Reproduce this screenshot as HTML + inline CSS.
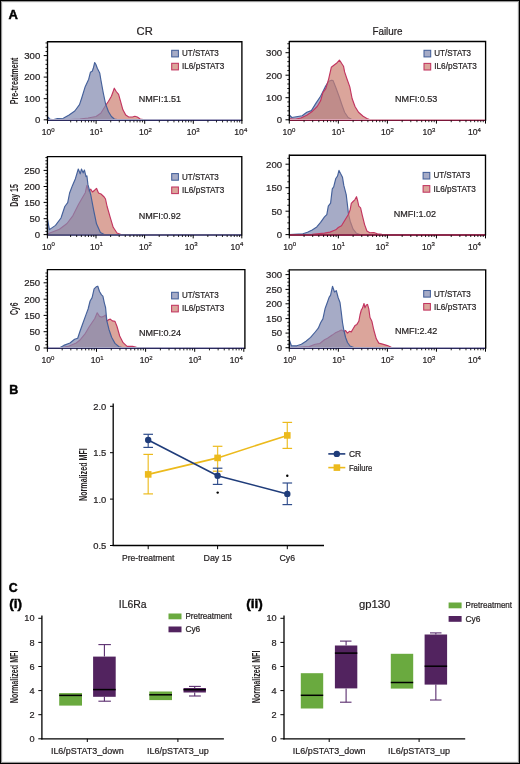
<!DOCTYPE html><html><head><meta charset="utf-8"><style>html,body{margin:0;padding:0;background:#fff;overflow:hidden}svg{display:block;will-change:transform}text{font-family:"Liberation Sans",sans-serif}</style></head><body>
<svg width="520" height="764" viewBox="0 0 520 764">
<rect x="0" y="0" width="520" height="764" fill="#fff"/>
<rect x="0" y="0" width="520" height="764" fill="#000"/>
<rect x="1" y="1" width="518" height="762" fill="#969696"/>
<rect x="2" y="2" width="516" height="760" fill="#f0f0f0"/>
<rect x="3" y="3" width="514" height="758" fill="#fff"/>
<text x="8.6" y="19" font-size="13" text-anchor="start" font-weight="bold" fill="#000" stroke="#000" stroke-width="0.45">A</text>
<text x="144.7" y="35.4" font-size="11.2" text-anchor="middle" font-weight="normal" fill="#231f20" stroke="#231f20" stroke-width="0.22">CR</text>
<text x="387.5" y="35.4" font-size="11.2" text-anchor="middle" font-weight="normal" fill="#231f20" textLength="30.2" lengthAdjust="spacingAndGlyphs" stroke="#231f20" stroke-width="0.22">Failure</text>
<text transform="translate(18 80.9) rotate(-90)" x="0" y="0" font-size="10.8" text-anchor="middle" font-weight="bold" fill="#231f20" textLength="46.7" lengthAdjust="spacingAndGlyphs">Pre-treatment</text>
<text transform="translate(18 195.4) rotate(-90)" x="0" y="0" font-size="10.8" text-anchor="middle" font-weight="bold" fill="#231f20" textLength="22.5" lengthAdjust="spacingAndGlyphs">Day 15</text>
<text transform="translate(18 308.8) rotate(-90)" x="0" y="0" font-size="10.8" text-anchor="middle" font-weight="bold" fill="#231f20" textLength="12.5" lengthAdjust="spacingAndGlyphs">Cy6</text>
<path d="M47.5 120 L60 120 L70 119.6 L80 119 L88 118 L96 116.5 L100.8 113.2 L105.6 105.5 L108.5 101.2 L111.4 96.3 L112.8 92.5 L114.3 88.2 L116.2 91.5 L118.6 94.4 L120.5 101.2 L122.9 109.8 L125.8 115.1 L128.7 117 L132.5 117 L134.9 116.3 L137.3 117 L140.2 119 L143.1 119.6 L146 120 L146 120.3 L47.5 120.3" fill="#cc7f70" fill-opacity="0.7" stroke="none" stroke-width="0" stroke-linejoin="round"/>
<path d="M47.5 120 L60 120 L70 119.6 L80 119 L88 118 L96 116.5 L100.8 113.2 L105.6 105.5 L108.5 101.2 L111.4 96.3 L112.8 92.5 L114.3 88.2 L116.2 91.5 L118.6 94.4 L120.5 101.2 L122.9 109.8 L125.8 115.1 L128.7 117 L132.5 117 L134.9 116.3 L137.3 117 L140.2 119 L143.1 119.6 L146 120" fill="none" fill-opacity="1" stroke="#c23560" stroke-width="1.15" stroke-linejoin="round"/>
<path d="M47.5 120 L47.7 117.2 L48.4 117.3 L49.6 119 L52.9 119.9 L57.5 118.5 L63.3 118.2 L69.1 115 L74.8 111 L79.5 104.6 L81.8 97.7 L85.2 86.7 L88.7 79.2 L90.4 72.3 L92.2 71.2 L93.3 68.3 L94.7 62.5 L95.8 64.2 L97.3 68.3 L99.7 72.9 L101 80.5 L103.2 92.5 L105.6 104 L108.5 111.7 L111.4 116.5 L114.3 119 L117.2 119.6 L120 120 L120 120.3 L47.5 120.3" fill="#838bb0" fill-opacity="0.72" stroke="none" stroke-width="0" stroke-linejoin="round"/>
<path d="M47.5 120 L47.7 117.2 L48.4 117.3 L49.6 119 L52.9 119.9 L57.5 118.5 L63.3 118.2 L69.1 115 L74.8 111 L79.5 104.6 L81.8 97.7 L85.2 86.7 L88.7 79.2 L90.4 72.3 L92.2 71.2 L93.3 68.3 L94.7 62.5 L95.8 64.2 L97.3 68.3 L99.7 72.9 L101 80.5 L103.2 92.5 L105.6 104 L108.5 111.7 L111.4 116.5 L114.3 119 L117.2 119.6 L120 120" fill="none" fill-opacity="1" stroke="#44609a" stroke-width="1.15" stroke-linejoin="round"/>
<rect x="47.5" y="119" width="194.4" height="1" fill="#a8a6c4"/>
<rect x="47.5" y="120" width="194.4" height="1" fill="#2b2a5e"/>
<path d="M47.5 41.7 L241.9 41.7 L241.9 120.9" fill="none" stroke="#000" stroke-width="1.35"/>
<line x1="47.5" y1="41.1" x2="47.5" y2="120.9" stroke="#000" stroke-width="1.35"/>
<line x1="45.5" y1="115.72" x2="47.5" y2="115.72" stroke="#000" stroke-width="0.9"/>
<line x1="45.5" y1="111.44" x2="47.5" y2="111.44" stroke="#000" stroke-width="0.9"/>
<line x1="45.5" y1="107.16" x2="47.5" y2="107.16" stroke="#000" stroke-width="0.9"/>
<line x1="45.5" y1="102.88" x2="47.5" y2="102.88" stroke="#000" stroke-width="0.9"/>
<line x1="45.5" y1="94.32" x2="47.5" y2="94.32" stroke="#000" stroke-width="0.9"/>
<line x1="45.5" y1="90.04" x2="47.5" y2="90.04" stroke="#000" stroke-width="0.9"/>
<line x1="45.5" y1="85.76" x2="47.5" y2="85.76" stroke="#000" stroke-width="0.9"/>
<line x1="45.5" y1="81.48" x2="47.5" y2="81.48" stroke="#000" stroke-width="0.9"/>
<line x1="45.5" y1="72.92" x2="47.5" y2="72.92" stroke="#000" stroke-width="0.9"/>
<line x1="45.5" y1="68.64" x2="47.5" y2="68.64" stroke="#000" stroke-width="0.9"/>
<line x1="45.5" y1="64.36" x2="47.5" y2="64.36" stroke="#000" stroke-width="0.9"/>
<line x1="45.5" y1="60.08" x2="47.5" y2="60.08" stroke="#000" stroke-width="0.9"/>
<line x1="45.5" y1="51.52" x2="47.5" y2="51.52" stroke="#000" stroke-width="0.9"/>
<line x1="45.5" y1="47.24" x2="47.5" y2="47.24" stroke="#000" stroke-width="0.9"/>
<line x1="45.5" y1="42.96" x2="47.5" y2="42.96" stroke="#000" stroke-width="0.9"/>
<line x1="43.7" y1="55.6" x2="47.5" y2="55.6" stroke="#000" stroke-width="1"/>
<text x="40.3" y="58.9" font-size="9.6" text-anchor="end" font-weight="normal" fill="#231f20" stroke="#231f20" stroke-width="0.22">300</text>
<line x1="43.7" y1="77.1" x2="47.5" y2="77.1" stroke="#000" stroke-width="1"/>
<text x="40.3" y="80.4" font-size="9.6" text-anchor="end" font-weight="normal" fill="#231f20" stroke="#231f20" stroke-width="0.22">200</text>
<line x1="43.7" y1="98.7" x2="47.5" y2="98.7" stroke="#000" stroke-width="1"/>
<text x="40.3" y="102" font-size="9.6" text-anchor="end" font-weight="normal" fill="#231f20" stroke="#231f20" stroke-width="0.22">100</text>
<line x1="43.7" y1="119.8" x2="47.5" y2="119.8" stroke="#000" stroke-width="1"/>
<text x="40.3" y="123.1" font-size="9.6" text-anchor="end" font-weight="normal" fill="#231f20" stroke="#231f20" stroke-width="0.22">0</text>
<line x1="47.5" y1="120.5" x2="47.5" y2="123.8" stroke="#000" stroke-width="1"/>
<line x1="70.69" y1="120.5" x2="70.69" y2="122.4" stroke="#000" stroke-width="0.85"/>
<line x1="76.76" y1="120.5" x2="76.76" y2="122.4" stroke="#000" stroke-width="0.85"/>
<line x1="81.47" y1="120.5" x2="81.47" y2="122.4" stroke="#000" stroke-width="0.85"/>
<line x1="85.32" y1="120.5" x2="85.32" y2="122.4" stroke="#000" stroke-width="0.85"/>
<line x1="88.57" y1="120.5" x2="88.57" y2="122.4" stroke="#000" stroke-width="0.85"/>
<line x1="91.39" y1="120.5" x2="91.39" y2="122.4" stroke="#000" stroke-width="0.85"/>
<line x1="93.88" y1="120.5" x2="93.88" y2="122.4" stroke="#000" stroke-width="0.85"/>
<text x="48.2" y="135.4" font-size="8.6" fill="#231f20" stroke="#231f20" stroke-width="0.2" text-anchor="middle">10<tspan font-size="6" dy="-3.6">0</tspan></text>
<line x1="96.1" y1="120.5" x2="96.1" y2="123.8" stroke="#000" stroke-width="1"/>
<line x1="110.73" y1="120.5" x2="110.73" y2="122.4" stroke="#000" stroke-width="0.85"/>
<line x1="119.29" y1="120.5" x2="119.29" y2="122.4" stroke="#000" stroke-width="0.85"/>
<line x1="125.36" y1="120.5" x2="125.36" y2="122.4" stroke="#000" stroke-width="0.85"/>
<line x1="130.07" y1="120.5" x2="130.07" y2="122.4" stroke="#000" stroke-width="0.85"/>
<line x1="133.92" y1="120.5" x2="133.92" y2="122.4" stroke="#000" stroke-width="0.85"/>
<line x1="137.17" y1="120.5" x2="137.17" y2="122.4" stroke="#000" stroke-width="0.85"/>
<line x1="139.99" y1="120.5" x2="139.99" y2="122.4" stroke="#000" stroke-width="0.85"/>
<line x1="142.48" y1="120.5" x2="142.48" y2="122.4" stroke="#000" stroke-width="0.85"/>
<text x="96.3" y="135.4" font-size="8.6" fill="#231f20" stroke="#231f20" stroke-width="0.2" text-anchor="middle">10<tspan font-size="6" dy="-3.6">1</tspan></text>
<line x1="144.7" y1="120.5" x2="144.7" y2="123.8" stroke="#000" stroke-width="1"/>
<line x1="159.33" y1="120.5" x2="159.33" y2="122.4" stroke="#000" stroke-width="0.85"/>
<line x1="167.89" y1="120.5" x2="167.89" y2="122.4" stroke="#000" stroke-width="0.85"/>
<line x1="173.96" y1="120.5" x2="173.96" y2="122.4" stroke="#000" stroke-width="0.85"/>
<line x1="178.67" y1="120.5" x2="178.67" y2="122.4" stroke="#000" stroke-width="0.85"/>
<line x1="182.52" y1="120.5" x2="182.52" y2="122.4" stroke="#000" stroke-width="0.85"/>
<line x1="185.77" y1="120.5" x2="185.77" y2="122.4" stroke="#000" stroke-width="0.85"/>
<line x1="188.59" y1="120.5" x2="188.59" y2="122.4" stroke="#000" stroke-width="0.85"/>
<line x1="191.08" y1="120.5" x2="191.08" y2="122.4" stroke="#000" stroke-width="0.85"/>
<text x="145.4" y="135.4" font-size="8.6" fill="#231f20" stroke="#231f20" stroke-width="0.2" text-anchor="middle">10<tspan font-size="6" dy="-3.6">2</tspan></text>
<line x1="193.3" y1="120.5" x2="193.3" y2="123.8" stroke="#000" stroke-width="1"/>
<line x1="207.93" y1="120.5" x2="207.93" y2="122.4" stroke="#000" stroke-width="0.85"/>
<line x1="216.49" y1="120.5" x2="216.49" y2="122.4" stroke="#000" stroke-width="0.85"/>
<line x1="222.56" y1="120.5" x2="222.56" y2="122.4" stroke="#000" stroke-width="0.85"/>
<line x1="227.27" y1="120.5" x2="227.27" y2="122.4" stroke="#000" stroke-width="0.85"/>
<line x1="231.12" y1="120.5" x2="231.12" y2="122.4" stroke="#000" stroke-width="0.85"/>
<line x1="234.37" y1="120.5" x2="234.37" y2="122.4" stroke="#000" stroke-width="0.85"/>
<line x1="237.19" y1="120.5" x2="237.19" y2="122.4" stroke="#000" stroke-width="0.85"/>
<line x1="239.68" y1="120.5" x2="239.68" y2="122.4" stroke="#000" stroke-width="0.85"/>
<text x="193.1" y="135.4" font-size="8.6" fill="#231f20" stroke="#231f20" stroke-width="0.2" text-anchor="middle">10<tspan font-size="6" dy="-3.6">3</tspan></text>
<line x1="241.9" y1="120.5" x2="241.9" y2="123.8" stroke="#000" stroke-width="1"/>
<text x="240.8" y="135.4" font-size="8.6" fill="#231f20" stroke="#231f20" stroke-width="0.2" text-anchor="middle">10<tspan font-size="6" dy="-3.6">4</tspan></text>
<rect x="171.7" y="50.3" width="6.7" height="6.6" fill="#838bb0" fill-opacity="0.72" stroke="#44609a" stroke-width="1.05"/>
<rect x="171.7" y="63.3" width="6.7" height="6.6" fill="#cc7f70" fill-opacity="0.7" stroke="#c23560" stroke-width="1.05"/>
<text x="182" y="56.3" font-size="8.9" text-anchor="start" font-weight="normal" fill="#231f20" textLength="36.8" lengthAdjust="spacingAndGlyphs" stroke="#231f20" stroke-width="0.22">UT/STAT3</text>
<text x="182" y="69.3" font-size="8.9" text-anchor="start" font-weight="normal" fill="#231f20" textLength="42.4" lengthAdjust="spacingAndGlyphs" stroke="#231f20" stroke-width="0.22">IL6/pSTAT3</text>
<text x="138.8" y="101.8" font-size="9.5" text-anchor="start" font-weight="normal" fill="#231f20" textLength="42.2" lengthAdjust="spacingAndGlyphs" stroke="#231f20" stroke-width="0.22">NMFI:1.51</text>
<path d="M289.4 119.8 L289.6 115.2 L291.8 117.5 L296.4 116.7 L302.2 115.8 L306.8 112.3 L311.4 110.6 L316 103.1 L320.6 96.2 L325.2 86.9 L328.7 81.2 L331.6 80.2 L333.1 80.6 L336 88 L339.4 97.3 L341.7 104.2 L344.6 112.3 L348.1 117.5 L351.5 119.2 L355 119.8 L355 120.1 L289.4 120.1" fill="#838bb0" fill-opacity="0.72" stroke="none" stroke-width="0" stroke-linejoin="round"/>
<path d="M289.4 119.8 L289.6 115.2 L291.8 117.5 L296.4 116.7 L302.2 115.8 L306.8 112.3 L311.4 110.6 L316 103.1 L320.6 96.2 L325.2 86.9 L328.7 81.2 L331.6 80.2 L333.1 80.6 L336 88 L339.4 97.3 L341.7 104.2 L344.6 112.3 L348.1 117.5 L351.5 119.2 L355 119.8" fill="none" fill-opacity="1" stroke="#44609a" stroke-width="1.15" stroke-linejoin="round"/>
<path d="M289.4 119.8 L289.6 118.7 L295.2 119.2 L301 118 L306.8 115.2 L312.5 111.2 L317.2 106.5 L320.6 100.8 L322.9 92.7 L325.8 88.7 L328.7 78.8 L331.3 67.3 L334.2 65 L336.5 63.3 L339.4 60.2 L341.2 62.7 L343.5 66.2 L344.6 71.9 L346.9 78.8 L349.8 86.9 L352.1 98.5 L355 106.5 L358.5 112.3 L363.1 116.3 L367.7 118.9 L370 119.8 L370 120.1 L289.4 120.1" fill="#cc7f70" fill-opacity="0.7" stroke="none" stroke-width="0" stroke-linejoin="round"/>
<path d="M289.4 119.8 L289.6 118.7 L295.2 119.2 L301 118 L306.8 115.2 L312.5 111.2 L317.2 106.5 L320.6 100.8 L322.9 92.7 L325.8 88.7 L328.7 78.8 L331.3 67.3 L334.2 65 L336.5 63.3 L339.4 60.2 L341.2 62.7 L343.5 66.2 L344.6 71.9 L346.9 78.8 L349.8 86.9 L352.1 98.5 L355 106.5 L358.5 112.3 L363.1 116.3 L367.7 118.9 L370 119.8" fill="none" fill-opacity="1" stroke="#c23560" stroke-width="1.15" stroke-linejoin="round"/>
<rect x="289.3" y="119" width="196.3" height="1" fill="#dca6b6"/>
<rect x="289.3" y="120" width="196.3" height="1" fill="#7a1538"/>
<path d="M289.3 41.5 L485.6 41.5 L485.6 120.7" fill="none" stroke="#000" stroke-width="1.35"/>
<line x1="289.3" y1="40.9" x2="289.3" y2="120.7" stroke="#000" stroke-width="1.35"/>
<line x1="287.3" y1="115.33" x2="289.3" y2="115.33" stroke="#000" stroke-width="0.9"/>
<line x1="287.3" y1="110.85" x2="289.3" y2="110.85" stroke="#000" stroke-width="0.9"/>
<line x1="287.3" y1="106.38" x2="289.3" y2="106.38" stroke="#000" stroke-width="0.9"/>
<line x1="287.3" y1="101.91" x2="289.3" y2="101.91" stroke="#000" stroke-width="0.9"/>
<line x1="287.3" y1="92.96" x2="289.3" y2="92.96" stroke="#000" stroke-width="0.9"/>
<line x1="287.3" y1="88.49" x2="289.3" y2="88.49" stroke="#000" stroke-width="0.9"/>
<line x1="287.3" y1="84.01" x2="289.3" y2="84.01" stroke="#000" stroke-width="0.9"/>
<line x1="287.3" y1="79.54" x2="289.3" y2="79.54" stroke="#000" stroke-width="0.9"/>
<line x1="287.3" y1="70.59" x2="289.3" y2="70.59" stroke="#000" stroke-width="0.9"/>
<line x1="287.3" y1="66.12" x2="289.3" y2="66.12" stroke="#000" stroke-width="0.9"/>
<line x1="287.3" y1="61.65" x2="289.3" y2="61.65" stroke="#000" stroke-width="0.9"/>
<line x1="287.3" y1="57.17" x2="289.3" y2="57.17" stroke="#000" stroke-width="0.9"/>
<line x1="287.3" y1="48.23" x2="289.3" y2="48.23" stroke="#000" stroke-width="0.9"/>
<line x1="287.3" y1="43.75" x2="289.3" y2="43.75" stroke="#000" stroke-width="0.9"/>
<line x1="285.5" y1="52.7" x2="289.3" y2="52.7" stroke="#000" stroke-width="1"/>
<text x="282.1" y="56" font-size="9.6" text-anchor="end" font-weight="normal" fill="#231f20" stroke="#231f20" stroke-width="0.22">300</text>
<line x1="285.5" y1="75.2" x2="289.3" y2="75.2" stroke="#000" stroke-width="1"/>
<text x="282.1" y="78.5" font-size="9.6" text-anchor="end" font-weight="normal" fill="#231f20" stroke="#231f20" stroke-width="0.22">200</text>
<line x1="285.5" y1="97.7" x2="289.3" y2="97.7" stroke="#000" stroke-width="1"/>
<text x="282.1" y="101" font-size="9.6" text-anchor="end" font-weight="normal" fill="#231f20" stroke="#231f20" stroke-width="0.22">100</text>
<line x1="285.5" y1="119.8" x2="289.3" y2="119.8" stroke="#000" stroke-width="1"/>
<text x="282.1" y="123.1" font-size="9.6" text-anchor="end" font-weight="normal" fill="#231f20" stroke="#231f20" stroke-width="0.22">0</text>
<line x1="289.3" y1="120.3" x2="289.3" y2="123.6" stroke="#000" stroke-width="1"/>
<line x1="304.07" y1="120.3" x2="304.07" y2="122.2" stroke="#000" stroke-width="0.85"/>
<line x1="312.7" y1="120.3" x2="312.7" y2="122.2" stroke="#000" stroke-width="0.85"/>
<line x1="318.83" y1="120.3" x2="318.83" y2="122.2" stroke="#000" stroke-width="0.85"/>
<line x1="323.58" y1="120.3" x2="323.58" y2="122.2" stroke="#000" stroke-width="0.85"/>
<line x1="327.47" y1="120.3" x2="327.47" y2="122.2" stroke="#000" stroke-width="0.85"/>
<line x1="330.75" y1="120.3" x2="330.75" y2="122.2" stroke="#000" stroke-width="0.85"/>
<line x1="333.6" y1="120.3" x2="333.6" y2="122.2" stroke="#000" stroke-width="0.85"/>
<line x1="336.11" y1="120.3" x2="336.11" y2="122.2" stroke="#000" stroke-width="0.85"/>
<text x="288.9" y="135.2" font-size="8.6" fill="#231f20" stroke="#231f20" stroke-width="0.2" text-anchor="middle">10<tspan font-size="6" dy="-3.6">0</tspan></text>
<line x1="338.35" y1="120.3" x2="338.35" y2="123.6" stroke="#000" stroke-width="1"/>
<line x1="353.12" y1="120.3" x2="353.12" y2="122.2" stroke="#000" stroke-width="0.85"/>
<line x1="361.75" y1="120.3" x2="361.75" y2="122.2" stroke="#000" stroke-width="0.85"/>
<line x1="367.88" y1="120.3" x2="367.88" y2="122.2" stroke="#000" stroke-width="0.85"/>
<line x1="372.63" y1="120.3" x2="372.63" y2="122.2" stroke="#000" stroke-width="0.85"/>
<line x1="376.52" y1="120.3" x2="376.52" y2="122.2" stroke="#000" stroke-width="0.85"/>
<line x1="379.8" y1="120.3" x2="379.8" y2="122.2" stroke="#000" stroke-width="0.85"/>
<line x1="382.65" y1="120.3" x2="382.65" y2="122.2" stroke="#000" stroke-width="0.85"/>
<line x1="385.16" y1="120.3" x2="385.16" y2="122.2" stroke="#000" stroke-width="0.85"/>
<text x="338.3" y="135.2" font-size="8.6" fill="#231f20" stroke="#231f20" stroke-width="0.2" text-anchor="middle">10<tspan font-size="6" dy="-3.6">1</tspan></text>
<line x1="387.4" y1="120.3" x2="387.4" y2="123.6" stroke="#000" stroke-width="1"/>
<line x1="402.17" y1="120.3" x2="402.17" y2="122.2" stroke="#000" stroke-width="0.85"/>
<line x1="410.8" y1="120.3" x2="410.8" y2="122.2" stroke="#000" stroke-width="0.85"/>
<line x1="416.93" y1="120.3" x2="416.93" y2="122.2" stroke="#000" stroke-width="0.85"/>
<line x1="421.68" y1="120.3" x2="421.68" y2="122.2" stroke="#000" stroke-width="0.85"/>
<line x1="425.57" y1="120.3" x2="425.57" y2="122.2" stroke="#000" stroke-width="0.85"/>
<line x1="428.85" y1="120.3" x2="428.85" y2="122.2" stroke="#000" stroke-width="0.85"/>
<line x1="431.7" y1="120.3" x2="431.7" y2="122.2" stroke="#000" stroke-width="0.85"/>
<line x1="434.21" y1="120.3" x2="434.21" y2="122.2" stroke="#000" stroke-width="0.85"/>
<text x="387.5" y="135.2" font-size="8.6" fill="#231f20" stroke="#231f20" stroke-width="0.2" text-anchor="middle">10<tspan font-size="6" dy="-3.6">2</tspan></text>
<line x1="436.45" y1="120.3" x2="436.45" y2="123.6" stroke="#000" stroke-width="1"/>
<line x1="451.22" y1="120.3" x2="451.22" y2="122.2" stroke="#000" stroke-width="0.85"/>
<line x1="459.85" y1="120.3" x2="459.85" y2="122.2" stroke="#000" stroke-width="0.85"/>
<line x1="465.98" y1="120.3" x2="465.98" y2="122.2" stroke="#000" stroke-width="0.85"/>
<line x1="470.73" y1="120.3" x2="470.73" y2="122.2" stroke="#000" stroke-width="0.85"/>
<line x1="474.62" y1="120.3" x2="474.62" y2="122.2" stroke="#000" stroke-width="0.85"/>
<line x1="477.9" y1="120.3" x2="477.9" y2="122.2" stroke="#000" stroke-width="0.85"/>
<line x1="480.75" y1="120.3" x2="480.75" y2="122.2" stroke="#000" stroke-width="0.85"/>
<line x1="483.26" y1="120.3" x2="483.26" y2="122.2" stroke="#000" stroke-width="0.85"/>
<text x="429" y="135.2" font-size="8.6" fill="#231f20" stroke="#231f20" stroke-width="0.2" text-anchor="middle">10<tspan font-size="6" dy="-3.6">3</tspan></text>
<line x1="485.5" y1="120.3" x2="485.5" y2="123.6" stroke="#000" stroke-width="1"/>
<text x="474.4" y="135.2" font-size="8.6" fill="#231f20" stroke="#231f20" stroke-width="0.2" text-anchor="middle">10<tspan font-size="6" dy="-3.6">4</tspan></text>
<rect x="424" y="50.3" width="6.7" height="6.6" fill="#838bb0" fill-opacity="0.72" stroke="#44609a" stroke-width="1.05"/>
<rect x="424" y="63.4" width="6.7" height="6.6" fill="#cc7f70" fill-opacity="0.7" stroke="#c23560" stroke-width="1.05"/>
<text x="434.3" y="56.3" font-size="8.9" text-anchor="start" font-weight="normal" fill="#231f20" textLength="36.8" lengthAdjust="spacingAndGlyphs" stroke="#231f20" stroke-width="0.22">UT/STAT3</text>
<text x="434.3" y="69.4" font-size="8.9" text-anchor="start" font-weight="normal" fill="#231f20" textLength="42.4" lengthAdjust="spacingAndGlyphs" stroke="#231f20" stroke-width="0.22">IL6/pSTAT3</text>
<text x="395.1" y="101.7" font-size="9.5" text-anchor="start" font-weight="normal" fill="#231f20" textLength="42.2" lengthAdjust="spacingAndGlyphs" stroke="#231f20" stroke-width="0.22">NMFI:0.53</text>
<path d="M47.4 234.6 L49.8 233 L59.4 229.2 L67 223.5 L72.8 215.8 L78.6 204.2 L82.5 197.5 L85.3 192.7 L86.9 185.4 L88.8 191.2 L90.8 189.2 L92.5 192 L94.6 190.2 L96.5 188.3 L98.5 193 L101 194 L104.2 197 L105.5 199 L107.1 206.5 L110.3 217.7 L113.2 227.3 L117 233 L121 234.6 L121 234.9 L47.4 234.9" fill="#cc7f70" fill-opacity="0.7" stroke="none" stroke-width="0" stroke-linejoin="round"/>
<path d="M47.4 234.6 L49.8 233 L59.4 229.2 L67 223.5 L72.8 215.8 L78.6 204.2 L82.5 197.5 L85.3 192.7 L86.9 185.4 L88.8 191.2 L90.8 189.2 L92.5 192 L94.6 190.2 L96.5 188.3 L98.5 193 L101 194 L104.2 197 L105.5 199 L107.1 206.5 L110.3 217.7 L113.2 227.3 L117 233 L121 234.6" fill="none" fill-opacity="1" stroke="#c23560" stroke-width="1.15" stroke-linejoin="round"/>
<path d="M47.4 234.6 L47.5 219 L49.4 229.6 L55.5 225.4 L61 218 L64.8 206.5 L67.7 202.7 L69.6 193 L72.5 185.4 L75.4 178.7 L78.3 169 L80.2 173.8 L81.5 169 L83.1 172.9 L84.4 170 L86 176.7 L86.9 175.8 L87.9 184.4 L90.8 195 L93.7 210.4 L96.5 223.8 L100.4 232.5 L104.2 234.6 L104.2 234.9 L47.4 234.9" fill="#838bb0" fill-opacity="0.72" stroke="none" stroke-width="0" stroke-linejoin="round"/>
<path d="M47.4 234.6 L47.5 219 L49.4 229.6 L55.5 225.4 L61 218 L64.8 206.5 L67.7 202.7 L69.6 193 L72.5 185.4 L75.4 178.7 L78.3 169 L80.2 173.8 L81.5 169 L83.1 172.9 L84.4 170 L86 176.7 L86.9 175.8 L87.9 184.4 L90.8 195 L93.7 210.4 L96.5 223.8 L100.4 232.5 L104.2 234.6" fill="none" fill-opacity="1" stroke="#44609a" stroke-width="1.15" stroke-linejoin="round"/>
<rect x="47.4" y="234" width="194.4" height="1" fill="#57557f"/>
<rect x="47.4" y="235" width="194.4" height="1" fill="#57557f"/>
<path d="M47.4 156.6 L241.8 156.6 L241.8 235.5" fill="none" stroke="#000" stroke-width="1.35"/>
<line x1="47.4" y1="156" x2="47.4" y2="235.5" stroke="#000" stroke-width="1.35"/>
<line x1="45.4" y1="231.39" x2="47.4" y2="231.39" stroke="#000" stroke-width="0.9"/>
<line x1="45.4" y1="228.18" x2="47.4" y2="228.18" stroke="#000" stroke-width="0.9"/>
<line x1="45.4" y1="224.97" x2="47.4" y2="224.97" stroke="#000" stroke-width="0.9"/>
<line x1="45.4" y1="221.76" x2="47.4" y2="221.76" stroke="#000" stroke-width="0.9"/>
<line x1="45.4" y1="215.34" x2="47.4" y2="215.34" stroke="#000" stroke-width="0.9"/>
<line x1="45.4" y1="212.13" x2="47.4" y2="212.13" stroke="#000" stroke-width="0.9"/>
<line x1="45.4" y1="208.92" x2="47.4" y2="208.92" stroke="#000" stroke-width="0.9"/>
<line x1="45.4" y1="205.71" x2="47.4" y2="205.71" stroke="#000" stroke-width="0.9"/>
<line x1="45.4" y1="199.29" x2="47.4" y2="199.29" stroke="#000" stroke-width="0.9"/>
<line x1="45.4" y1="196.08" x2="47.4" y2="196.08" stroke="#000" stroke-width="0.9"/>
<line x1="45.4" y1="192.87" x2="47.4" y2="192.87" stroke="#000" stroke-width="0.9"/>
<line x1="45.4" y1="189.66" x2="47.4" y2="189.66" stroke="#000" stroke-width="0.9"/>
<line x1="45.4" y1="183.24" x2="47.4" y2="183.24" stroke="#000" stroke-width="0.9"/>
<line x1="45.4" y1="180.03" x2="47.4" y2="180.03" stroke="#000" stroke-width="0.9"/>
<line x1="45.4" y1="176.82" x2="47.4" y2="176.82" stroke="#000" stroke-width="0.9"/>
<line x1="45.4" y1="173.61" x2="47.4" y2="173.61" stroke="#000" stroke-width="0.9"/>
<line x1="45.4" y1="167.19" x2="47.4" y2="167.19" stroke="#000" stroke-width="0.9"/>
<line x1="45.4" y1="163.98" x2="47.4" y2="163.98" stroke="#000" stroke-width="0.9"/>
<line x1="45.4" y1="160.77" x2="47.4" y2="160.77" stroke="#000" stroke-width="0.9"/>
<line x1="45.4" y1="157.56" x2="47.4" y2="157.56" stroke="#000" stroke-width="0.9"/>
<line x1="43.6" y1="170.4" x2="47.4" y2="170.4" stroke="#000" stroke-width="1"/>
<text x="40.2" y="173.7" font-size="9.6" text-anchor="end" font-weight="normal" fill="#231f20" stroke="#231f20" stroke-width="0.22">250</text>
<line x1="43.6" y1="186.5" x2="47.4" y2="186.5" stroke="#000" stroke-width="1"/>
<text x="40.2" y="189.8" font-size="9.6" text-anchor="end" font-weight="normal" fill="#231f20" stroke="#231f20" stroke-width="0.22">200</text>
<line x1="43.6" y1="202.4" x2="47.4" y2="202.4" stroke="#000" stroke-width="1"/>
<text x="40.2" y="205.7" font-size="9.6" text-anchor="end" font-weight="normal" fill="#231f20" stroke="#231f20" stroke-width="0.22">150</text>
<line x1="43.6" y1="218.7" x2="47.4" y2="218.7" stroke="#000" stroke-width="1"/>
<text x="40.2" y="222" font-size="9.6" text-anchor="end" font-weight="normal" fill="#231f20" stroke="#231f20" stroke-width="0.22">50</text>
<line x1="43.6" y1="234.6" x2="47.4" y2="234.6" stroke="#000" stroke-width="1"/>
<text x="40.2" y="237.9" font-size="9.6" text-anchor="end" font-weight="normal" fill="#231f20" stroke="#231f20" stroke-width="0.22">0</text>
<line x1="47.4" y1="235.1" x2="47.4" y2="238.4" stroke="#000" stroke-width="1"/>
<line x1="70.59" y1="235.1" x2="70.59" y2="237" stroke="#000" stroke-width="0.85"/>
<line x1="76.66" y1="235.1" x2="76.66" y2="237" stroke="#000" stroke-width="0.85"/>
<line x1="81.37" y1="235.1" x2="81.37" y2="237" stroke="#000" stroke-width="0.85"/>
<line x1="85.22" y1="235.1" x2="85.22" y2="237" stroke="#000" stroke-width="0.85"/>
<line x1="88.47" y1="235.1" x2="88.47" y2="237" stroke="#000" stroke-width="0.85"/>
<line x1="91.29" y1="235.1" x2="91.29" y2="237" stroke="#000" stroke-width="0.85"/>
<line x1="93.78" y1="235.1" x2="93.78" y2="237" stroke="#000" stroke-width="0.85"/>
<text x="48.5" y="250" font-size="8.6" fill="#231f20" stroke="#231f20" stroke-width="0.2" text-anchor="middle">10<tspan font-size="6" dy="-3.6">0</tspan></text>
<line x1="96" y1="235.1" x2="96" y2="238.4" stroke="#000" stroke-width="1"/>
<line x1="110.63" y1="235.1" x2="110.63" y2="237" stroke="#000" stroke-width="0.85"/>
<line x1="119.19" y1="235.1" x2="119.19" y2="237" stroke="#000" stroke-width="0.85"/>
<line x1="125.26" y1="235.1" x2="125.26" y2="237" stroke="#000" stroke-width="0.85"/>
<line x1="129.97" y1="235.1" x2="129.97" y2="237" stroke="#000" stroke-width="0.85"/>
<line x1="133.82" y1="235.1" x2="133.82" y2="237" stroke="#000" stroke-width="0.85"/>
<line x1="137.07" y1="235.1" x2="137.07" y2="237" stroke="#000" stroke-width="0.85"/>
<line x1="139.89" y1="235.1" x2="139.89" y2="237" stroke="#000" stroke-width="0.85"/>
<line x1="142.38" y1="235.1" x2="142.38" y2="237" stroke="#000" stroke-width="0.85"/>
<text x="96.5" y="250" font-size="8.6" fill="#231f20" stroke="#231f20" stroke-width="0.2" text-anchor="middle">10<tspan font-size="6" dy="-3.6">1</tspan></text>
<line x1="144.6" y1="235.1" x2="144.6" y2="238.4" stroke="#000" stroke-width="1"/>
<line x1="159.23" y1="235.1" x2="159.23" y2="237" stroke="#000" stroke-width="0.85"/>
<line x1="167.79" y1="235.1" x2="167.79" y2="237" stroke="#000" stroke-width="0.85"/>
<line x1="173.86" y1="235.1" x2="173.86" y2="237" stroke="#000" stroke-width="0.85"/>
<line x1="178.57" y1="235.1" x2="178.57" y2="237" stroke="#000" stroke-width="0.85"/>
<line x1="182.42" y1="235.1" x2="182.42" y2="237" stroke="#000" stroke-width="0.85"/>
<line x1="185.67" y1="235.1" x2="185.67" y2="237" stroke="#000" stroke-width="0.85"/>
<line x1="188.49" y1="235.1" x2="188.49" y2="237" stroke="#000" stroke-width="0.85"/>
<line x1="190.98" y1="235.1" x2="190.98" y2="237" stroke="#000" stroke-width="0.85"/>
<text x="145.5" y="250" font-size="8.6" fill="#231f20" stroke="#231f20" stroke-width="0.2" text-anchor="middle">10<tspan font-size="6" dy="-3.6">2</tspan></text>
<line x1="193.2" y1="235.1" x2="193.2" y2="238.4" stroke="#000" stroke-width="1"/>
<line x1="207.83" y1="235.1" x2="207.83" y2="237" stroke="#000" stroke-width="0.85"/>
<line x1="216.39" y1="235.1" x2="216.39" y2="237" stroke="#000" stroke-width="0.85"/>
<line x1="222.46" y1="235.1" x2="222.46" y2="237" stroke="#000" stroke-width="0.85"/>
<line x1="227.17" y1="235.1" x2="227.17" y2="237" stroke="#000" stroke-width="0.85"/>
<line x1="231.02" y1="235.1" x2="231.02" y2="237" stroke="#000" stroke-width="0.85"/>
<line x1="234.27" y1="235.1" x2="234.27" y2="237" stroke="#000" stroke-width="0.85"/>
<line x1="237.09" y1="235.1" x2="237.09" y2="237" stroke="#000" stroke-width="0.85"/>
<line x1="239.58" y1="235.1" x2="239.58" y2="237" stroke="#000" stroke-width="0.85"/>
<text x="191.1" y="250" font-size="8.6" fill="#231f20" stroke="#231f20" stroke-width="0.2" text-anchor="middle">10<tspan font-size="6" dy="-3.6">3</tspan></text>
<line x1="241.8" y1="235.1" x2="241.8" y2="238.4" stroke="#000" stroke-width="1"/>
<text x="237" y="250" font-size="8.6" fill="#231f20" stroke="#231f20" stroke-width="0.2" text-anchor="middle">10<tspan font-size="6" dy="-3.6">4</tspan></text>
<rect x="171.7" y="173.6" width="6.7" height="6.6" fill="#838bb0" fill-opacity="0.72" stroke="#44609a" stroke-width="1.05"/>
<rect x="171.7" y="187" width="6.7" height="6.6" fill="#cc7f70" fill-opacity="0.7" stroke="#c23560" stroke-width="1.05"/>
<text x="182" y="179.6" font-size="8.9" text-anchor="start" font-weight="normal" fill="#231f20" textLength="36.8" lengthAdjust="spacingAndGlyphs" stroke="#231f20" stroke-width="0.22">UT/STAT3</text>
<text x="182" y="193" font-size="8.9" text-anchor="start" font-weight="normal" fill="#231f20" textLength="42.4" lengthAdjust="spacingAndGlyphs" stroke="#231f20" stroke-width="0.22">IL6/pSTAT3</text>
<text x="138.7" y="218.9" font-size="9.5" text-anchor="start" font-weight="normal" fill="#231f20" textLength="42.2" lengthAdjust="spacingAndGlyphs" stroke="#231f20" stroke-width="0.22">NMFI:0.92</text>
<path d="M289.4 234.6 L302.9 233.8 L307.5 232.3 L312.2 230 L316.8 226.9 L320.6 222.3 L324.5 216.9 L326.8 214.6 L328.3 206.2 L330.6 203.1 L332.3 188.8 L333.7 186.9 L335.8 178.5 L337.5 176.2 L339 170.4 L340.4 173.3 L342.5 177.3 L343.8 185.4 L346.2 194.6 L347.3 203.8 L348.5 214.2 L350.2 221.2 L353.1 229.2 L356.5 233.3 L360 234.6 L360 234.9 L289.4 234.9" fill="#838bb0" fill-opacity="0.72" stroke="none" stroke-width="0" stroke-linejoin="round"/>
<path d="M289.4 234.6 L302.9 233.8 L307.5 232.3 L312.2 230 L316.8 226.9 L320.6 222.3 L324.5 216.9 L326.8 214.6 L328.3 206.2 L330.6 203.1 L332.3 188.8 L333.7 186.9 L335.8 178.5 L337.5 176.2 L339 170.4 L340.4 173.3 L342.5 177.3 L343.8 185.4 L346.2 194.6 L347.3 203.8 L348.5 214.2 L350.2 221.2 L353.1 229.2 L356.5 233.3 L360 234.6" fill="none" fill-opacity="1" stroke="#44609a" stroke-width="1.15" stroke-linejoin="round"/>
<path d="M289.4 234.6 L312.2 234.3 L324.5 233.1 L330 232.1 L335.8 229.8 L338.3 227.5 L341.5 225.8 L345 220 L348.5 214.2 L350.2 209.6 L351.3 203.3 L353.1 201.5 L354.8 199.8 L356.5 196.7 L357.7 201 L358.8 206.2 L360.6 207.9 L362.3 215.4 L364.6 224.6 L366.9 231 L369.8 232.7 L373.8 232.5 L377.3 233.8 L381.9 234.4 L390 234.6 L390 234.9 L289.4 234.9" fill="#cc7f70" fill-opacity="0.7" stroke="none" stroke-width="0" stroke-linejoin="round"/>
<path d="M289.4 234.6 L312.2 234.3 L324.5 233.1 L330 232.1 L335.8 229.8 L338.3 227.5 L341.5 225.8 L345 220 L348.5 214.2 L350.2 209.6 L351.3 203.3 L353.1 201.5 L354.8 199.8 L356.5 196.7 L357.7 201 L358.8 206.2 L360.6 207.9 L362.3 215.4 L364.6 224.6 L366.9 231 L369.8 232.7 L373.8 232.5 L377.3 233.8 L381.9 234.4 L390 234.6" fill="none" fill-opacity="1" stroke="#c23560" stroke-width="1.15" stroke-linejoin="round"/>
<rect x="289.3" y="234" width="196.2" height="1" fill="#8c2a4c"/>
<rect x="289.3" y="235" width="196.2" height="1" fill="#8c2a4c"/>
<path d="M289.3 155.2 L485.5 155.2 L485.5 235.5" fill="none" stroke="#000" stroke-width="1.35"/>
<line x1="289.3" y1="154.6" x2="289.3" y2="235.5" stroke="#000" stroke-width="1.35"/>
<line x1="287.3" y1="228.73" x2="289.3" y2="228.73" stroke="#000" stroke-width="0.9"/>
<line x1="287.3" y1="222.87" x2="289.3" y2="222.87" stroke="#000" stroke-width="0.9"/>
<line x1="287.3" y1="217" x2="289.3" y2="217" stroke="#000" stroke-width="0.9"/>
<line x1="287.3" y1="205.27" x2="289.3" y2="205.27" stroke="#000" stroke-width="0.9"/>
<line x1="287.3" y1="199.4" x2="289.3" y2="199.4" stroke="#000" stroke-width="0.9"/>
<line x1="287.3" y1="193.53" x2="289.3" y2="193.53" stroke="#000" stroke-width="0.9"/>
<line x1="287.3" y1="181.8" x2="289.3" y2="181.8" stroke="#000" stroke-width="0.9"/>
<line x1="287.3" y1="175.93" x2="289.3" y2="175.93" stroke="#000" stroke-width="0.9"/>
<line x1="287.3" y1="170.07" x2="289.3" y2="170.07" stroke="#000" stroke-width="0.9"/>
<line x1="287.3" y1="158.33" x2="289.3" y2="158.33" stroke="#000" stroke-width="0.9"/>
<line x1="285.5" y1="164.2" x2="289.3" y2="164.2" stroke="#000" stroke-width="1"/>
<text x="282.1" y="167.5" font-size="9.6" text-anchor="end" font-weight="normal" fill="#231f20" stroke="#231f20" stroke-width="0.22">200</text>
<line x1="285.5" y1="187.7" x2="289.3" y2="187.7" stroke="#000" stroke-width="1"/>
<text x="282.1" y="191" font-size="9.6" text-anchor="end" font-weight="normal" fill="#231f20" stroke="#231f20" stroke-width="0.22">150</text>
<line x1="285.5" y1="211.2" x2="289.3" y2="211.2" stroke="#000" stroke-width="1"/>
<text x="282.1" y="214.5" font-size="9.6" text-anchor="end" font-weight="normal" fill="#231f20" stroke="#231f20" stroke-width="0.22">50</text>
<line x1="285.5" y1="234.6" x2="289.3" y2="234.6" stroke="#000" stroke-width="1"/>
<text x="282.1" y="237.9" font-size="9.6" text-anchor="end" font-weight="normal" fill="#231f20" stroke="#231f20" stroke-width="0.22">0</text>
<line x1="289.3" y1="235.1" x2="289.3" y2="238.4" stroke="#000" stroke-width="1"/>
<line x1="304.07" y1="235.1" x2="304.07" y2="237" stroke="#000" stroke-width="0.85"/>
<line x1="312.7" y1="235.1" x2="312.7" y2="237" stroke="#000" stroke-width="0.85"/>
<line x1="318.83" y1="235.1" x2="318.83" y2="237" stroke="#000" stroke-width="0.85"/>
<line x1="323.58" y1="235.1" x2="323.58" y2="237" stroke="#000" stroke-width="0.85"/>
<line x1="327.47" y1="235.1" x2="327.47" y2="237" stroke="#000" stroke-width="0.85"/>
<line x1="330.75" y1="235.1" x2="330.75" y2="237" stroke="#000" stroke-width="0.85"/>
<line x1="333.6" y1="235.1" x2="333.6" y2="237" stroke="#000" stroke-width="0.85"/>
<line x1="336.11" y1="235.1" x2="336.11" y2="237" stroke="#000" stroke-width="0.85"/>
<text x="289.7" y="250" font-size="8.6" fill="#231f20" stroke="#231f20" stroke-width="0.2" text-anchor="middle">10<tspan font-size="6" dy="-3.6">0</tspan></text>
<line x1="338.35" y1="235.1" x2="338.35" y2="238.4" stroke="#000" stroke-width="1"/>
<line x1="353.12" y1="235.1" x2="353.12" y2="237" stroke="#000" stroke-width="0.85"/>
<line x1="361.75" y1="235.1" x2="361.75" y2="237" stroke="#000" stroke-width="0.85"/>
<line x1="367.88" y1="235.1" x2="367.88" y2="237" stroke="#000" stroke-width="0.85"/>
<line x1="372.63" y1="235.1" x2="372.63" y2="237" stroke="#000" stroke-width="0.85"/>
<line x1="376.52" y1="235.1" x2="376.52" y2="237" stroke="#000" stroke-width="0.85"/>
<line x1="379.8" y1="235.1" x2="379.8" y2="237" stroke="#000" stroke-width="0.85"/>
<line x1="382.65" y1="235.1" x2="382.65" y2="237" stroke="#000" stroke-width="0.85"/>
<line x1="385.16" y1="235.1" x2="385.16" y2="237" stroke="#000" stroke-width="0.85"/>
<text x="338.5" y="250" font-size="8.6" fill="#231f20" stroke="#231f20" stroke-width="0.2" text-anchor="middle">10<tspan font-size="6" dy="-3.6">1</tspan></text>
<line x1="387.4" y1="235.1" x2="387.4" y2="238.4" stroke="#000" stroke-width="1"/>
<line x1="402.17" y1="235.1" x2="402.17" y2="237" stroke="#000" stroke-width="0.85"/>
<line x1="410.8" y1="235.1" x2="410.8" y2="237" stroke="#000" stroke-width="0.85"/>
<line x1="416.93" y1="235.1" x2="416.93" y2="237" stroke="#000" stroke-width="0.85"/>
<line x1="421.68" y1="235.1" x2="421.68" y2="237" stroke="#000" stroke-width="0.85"/>
<line x1="425.57" y1="235.1" x2="425.57" y2="237" stroke="#000" stroke-width="0.85"/>
<line x1="428.85" y1="235.1" x2="428.85" y2="237" stroke="#000" stroke-width="0.85"/>
<line x1="431.7" y1="235.1" x2="431.7" y2="237" stroke="#000" stroke-width="0.85"/>
<line x1="434.21" y1="235.1" x2="434.21" y2="237" stroke="#000" stroke-width="0.85"/>
<text x="382.3" y="250" font-size="8.6" fill="#231f20" stroke="#231f20" stroke-width="0.2" text-anchor="middle">10<tspan font-size="6" dy="-3.6">2</tspan></text>
<line x1="436.45" y1="235.1" x2="436.45" y2="238.4" stroke="#000" stroke-width="1"/>
<line x1="451.22" y1="235.1" x2="451.22" y2="237" stroke="#000" stroke-width="0.85"/>
<line x1="459.85" y1="235.1" x2="459.85" y2="237" stroke="#000" stroke-width="0.85"/>
<line x1="465.98" y1="235.1" x2="465.98" y2="237" stroke="#000" stroke-width="0.85"/>
<line x1="470.73" y1="235.1" x2="470.73" y2="237" stroke="#000" stroke-width="0.85"/>
<line x1="474.62" y1="235.1" x2="474.62" y2="237" stroke="#000" stroke-width="0.85"/>
<line x1="477.9" y1="235.1" x2="477.9" y2="237" stroke="#000" stroke-width="0.85"/>
<line x1="480.75" y1="235.1" x2="480.75" y2="237" stroke="#000" stroke-width="0.85"/>
<line x1="483.26" y1="235.1" x2="483.26" y2="237" stroke="#000" stroke-width="0.85"/>
<text x="428.5" y="250" font-size="8.6" fill="#231f20" stroke="#231f20" stroke-width="0.2" text-anchor="middle">10<tspan font-size="6" dy="-3.6">3</tspan></text>
<line x1="485.5" y1="235.1" x2="485.5" y2="238.4" stroke="#000" stroke-width="1"/>
<text x="474.4" y="250" font-size="8.6" fill="#231f20" stroke="#231f20" stroke-width="0.2" text-anchor="middle">10<tspan font-size="6" dy="-3.6">4</tspan></text>
<rect x="423.1" y="172.4" width="6.7" height="6.6" fill="#838bb0" fill-opacity="0.72" stroke="#44609a" stroke-width="1.05"/>
<rect x="423.1" y="185.6" width="6.7" height="6.6" fill="#cc7f70" fill-opacity="0.7" stroke="#c23560" stroke-width="1.05"/>
<text x="433.4" y="178.4" font-size="8.9" text-anchor="start" font-weight="normal" fill="#231f20" textLength="36.8" lengthAdjust="spacingAndGlyphs" stroke="#231f20" stroke-width="0.22">UT/STAT3</text>
<text x="433.4" y="191.6" font-size="8.9" text-anchor="start" font-weight="normal" fill="#231f20" textLength="42.4" lengthAdjust="spacingAndGlyphs" stroke="#231f20" stroke-width="0.22">IL6/pSTAT3</text>
<text x="393.8" y="217.4" font-size="9.5" text-anchor="start" font-weight="normal" fill="#231f20" textLength="42.2" lengthAdjust="spacingAndGlyphs" stroke="#231f20" stroke-width="0.22">NMFI:1.02</text>
<path d="M47.4 348 L59.2 348 L68.5 346.2 L76.2 343 L80 340 L85.4 333.3 L89.4 326.5 L92.1 322.5 L94.8 318.5 L97.2 312.8 L99.5 316.4 L101.5 317.1 L103.6 316.4 L105.6 315.1 L106.9 321.1 L108.9 319.5 L110.3 319.1 L112.3 320.9 L115 321.4 L117 326.5 L119.7 336 L123.1 342.7 L127.1 346.4 L132.5 346.4 L136.5 347.4 L140.6 348 L140.6 348.3 L47.4 348.3" fill="#cc7f70" fill-opacity="0.7" stroke="none" stroke-width="0" stroke-linejoin="round"/>
<path d="M47.4 348 L59.2 348 L68.5 346.2 L76.2 343 L80 340 L85.4 333.3 L89.4 326.5 L92.1 322.5 L94.8 318.5 L97.2 312.8 L99.5 316.4 L101.5 317.1 L103.6 316.4 L105.6 315.1 L106.9 321.1 L108.9 319.5 L110.3 319.1 L112.3 320.9 L115 321.4 L117 326.5 L119.7 336 L123.1 342.7 L127.1 346.4 L132.5 346.4 L136.5 347.4 L140.6 348" fill="none" fill-opacity="1" stroke="#c23560" stroke-width="1.15" stroke-linejoin="round"/>
<path d="M47.4 348 L47.6 346.9 L50 348.2 L59.2 348 L63.8 345.4 L70 343 L74.6 339.2 L77.7 338.2 L80 331.2 L82.7 323.8 L86.1 314.4 L88.1 309 L90.1 301 L92.1 297.6 L94.1 288.8 L96.2 286.8 L97.8 286.2 L99.5 291.5 L101.5 294.9 L102.9 296.2 L104.2 302.3 L105.6 307.7 L106.2 314.4 L106.9 321.1 L108.9 329.2 L111.6 337.3 L115 343.4 L119 346.7 L123.1 347.8 L126 348 L126 348.3 L47.4 348.3" fill="#838bb0" fill-opacity="0.72" stroke="none" stroke-width="0" stroke-linejoin="round"/>
<path d="M47.4 348 L47.6 346.9 L50 348.2 L59.2 348 L63.8 345.4 L70 343 L74.6 339.2 L77.7 338.2 L80 331.2 L82.7 323.8 L86.1 314.4 L88.1 309 L90.1 301 L92.1 297.6 L94.1 288.8 L96.2 286.8 L97.8 286.2 L99.5 291.5 L101.5 294.9 L102.9 296.2 L104.2 302.3 L105.6 307.7 L106.2 314.4 L106.9 321.1 L108.9 329.2 L111.6 337.3 L115 343.4 L119 346.7 L123.1 347.8 L126 348" fill="none" fill-opacity="1" stroke="#44609a" stroke-width="1.15" stroke-linejoin="round"/>
<rect x="47.4" y="347" width="197.5" height="1" fill="#a8a6c4"/>
<rect x="47.4" y="348" width="197.5" height="1" fill="#2b2a5e"/>
<path d="M47.4 269.6 L244.9 269.6 L244.9 348.9" fill="none" stroke="#000" stroke-width="1.35"/>
<line x1="47.4" y1="269" x2="47.4" y2="348.9" stroke="#000" stroke-width="1.35"/>
<line x1="45.4" y1="344.74" x2="47.4" y2="344.74" stroke="#000" stroke-width="0.9"/>
<line x1="45.4" y1="341.48" x2="47.4" y2="341.48" stroke="#000" stroke-width="0.9"/>
<line x1="45.4" y1="338.22" x2="47.4" y2="338.22" stroke="#000" stroke-width="0.9"/>
<line x1="45.4" y1="334.96" x2="47.4" y2="334.96" stroke="#000" stroke-width="0.9"/>
<line x1="45.4" y1="328.44" x2="47.4" y2="328.44" stroke="#000" stroke-width="0.9"/>
<line x1="45.4" y1="325.18" x2="47.4" y2="325.18" stroke="#000" stroke-width="0.9"/>
<line x1="45.4" y1="321.92" x2="47.4" y2="321.92" stroke="#000" stroke-width="0.9"/>
<line x1="45.4" y1="318.66" x2="47.4" y2="318.66" stroke="#000" stroke-width="0.9"/>
<line x1="45.4" y1="312.14" x2="47.4" y2="312.14" stroke="#000" stroke-width="0.9"/>
<line x1="45.4" y1="308.88" x2="47.4" y2="308.88" stroke="#000" stroke-width="0.9"/>
<line x1="45.4" y1="305.62" x2="47.4" y2="305.62" stroke="#000" stroke-width="0.9"/>
<line x1="45.4" y1="302.36" x2="47.4" y2="302.36" stroke="#000" stroke-width="0.9"/>
<line x1="45.4" y1="295.84" x2="47.4" y2="295.84" stroke="#000" stroke-width="0.9"/>
<line x1="45.4" y1="292.58" x2="47.4" y2="292.58" stroke="#000" stroke-width="0.9"/>
<line x1="45.4" y1="289.32" x2="47.4" y2="289.32" stroke="#000" stroke-width="0.9"/>
<line x1="45.4" y1="286.06" x2="47.4" y2="286.06" stroke="#000" stroke-width="0.9"/>
<line x1="45.4" y1="279.54" x2="47.4" y2="279.54" stroke="#000" stroke-width="0.9"/>
<line x1="45.4" y1="276.28" x2="47.4" y2="276.28" stroke="#000" stroke-width="0.9"/>
<line x1="45.4" y1="273.02" x2="47.4" y2="273.02" stroke="#000" stroke-width="0.9"/>
<line x1="43.6" y1="282.8" x2="47.4" y2="282.8" stroke="#000" stroke-width="1"/>
<text x="40.2" y="286.1" font-size="9.6" text-anchor="end" font-weight="normal" fill="#231f20" stroke="#231f20" stroke-width="0.22">250</text>
<line x1="43.6" y1="299.2" x2="47.4" y2="299.2" stroke="#000" stroke-width="1"/>
<text x="40.2" y="302.5" font-size="9.6" text-anchor="end" font-weight="normal" fill="#231f20" stroke="#231f20" stroke-width="0.22">200</text>
<line x1="43.6" y1="315.4" x2="47.4" y2="315.4" stroke="#000" stroke-width="1"/>
<text x="40.2" y="318.7" font-size="9.6" text-anchor="end" font-weight="normal" fill="#231f20" stroke="#231f20" stroke-width="0.22">150</text>
<line x1="43.6" y1="331.7" x2="47.4" y2="331.7" stroke="#000" stroke-width="1"/>
<text x="40.2" y="335" font-size="9.6" text-anchor="end" font-weight="normal" fill="#231f20" stroke="#231f20" stroke-width="0.22">50</text>
<line x1="43.6" y1="348" x2="47.4" y2="348" stroke="#000" stroke-width="1"/>
<text x="40.2" y="351.3" font-size="9.6" text-anchor="end" font-weight="normal" fill="#231f20" stroke="#231f20" stroke-width="0.22">0</text>
<line x1="47.4" y1="348.5" x2="47.4" y2="351.8" stroke="#000" stroke-width="1"/>
<line x1="62.18" y1="348.5" x2="62.18" y2="350.4" stroke="#000" stroke-width="0.85"/>
<line x1="70.83" y1="348.5" x2="70.83" y2="350.4" stroke="#000" stroke-width="0.85"/>
<line x1="76.96" y1="348.5" x2="76.96" y2="350.4" stroke="#000" stroke-width="0.85"/>
<line x1="81.72" y1="348.5" x2="81.72" y2="350.4" stroke="#000" stroke-width="0.85"/>
<line x1="85.61" y1="348.5" x2="85.61" y2="350.4" stroke="#000" stroke-width="0.85"/>
<line x1="88.89" y1="348.5" x2="88.89" y2="350.4" stroke="#000" stroke-width="0.85"/>
<line x1="91.74" y1="348.5" x2="91.74" y2="350.4" stroke="#000" stroke-width="0.85"/>
<line x1="94.25" y1="348.5" x2="94.25" y2="350.4" stroke="#000" stroke-width="0.85"/>
<text x="48" y="363.4" font-size="8.6" fill="#231f20" stroke="#231f20" stroke-width="0.2" text-anchor="middle">10<tspan font-size="6" dy="-3.6">0</tspan></text>
<line x1="96.5" y1="348.5" x2="96.5" y2="351.8" stroke="#000" stroke-width="1"/>
<line x1="111.28" y1="348.5" x2="111.28" y2="350.4" stroke="#000" stroke-width="0.85"/>
<line x1="119.93" y1="348.5" x2="119.93" y2="350.4" stroke="#000" stroke-width="0.85"/>
<line x1="126.06" y1="348.5" x2="126.06" y2="350.4" stroke="#000" stroke-width="0.85"/>
<line x1="130.82" y1="348.5" x2="130.82" y2="350.4" stroke="#000" stroke-width="0.85"/>
<line x1="134.71" y1="348.5" x2="134.71" y2="350.4" stroke="#000" stroke-width="0.85"/>
<line x1="137.99" y1="348.5" x2="137.99" y2="350.4" stroke="#000" stroke-width="0.85"/>
<line x1="140.84" y1="348.5" x2="140.84" y2="350.4" stroke="#000" stroke-width="0.85"/>
<line x1="143.35" y1="348.5" x2="143.35" y2="350.4" stroke="#000" stroke-width="0.85"/>
<text x="97.2" y="363.4" font-size="8.6" fill="#231f20" stroke="#231f20" stroke-width="0.2" text-anchor="middle">10<tspan font-size="6" dy="-3.6">1</tspan></text>
<line x1="145.6" y1="348.5" x2="145.6" y2="351.8" stroke="#000" stroke-width="1"/>
<line x1="160.38" y1="348.5" x2="160.38" y2="350.4" stroke="#000" stroke-width="0.85"/>
<line x1="169.03" y1="348.5" x2="169.03" y2="350.4" stroke="#000" stroke-width="0.85"/>
<line x1="175.16" y1="348.5" x2="175.16" y2="350.4" stroke="#000" stroke-width="0.85"/>
<line x1="179.92" y1="348.5" x2="179.92" y2="350.4" stroke="#000" stroke-width="0.85"/>
<line x1="183.81" y1="348.5" x2="183.81" y2="350.4" stroke="#000" stroke-width="0.85"/>
<line x1="187.09" y1="348.5" x2="187.09" y2="350.4" stroke="#000" stroke-width="0.85"/>
<line x1="189.94" y1="348.5" x2="189.94" y2="350.4" stroke="#000" stroke-width="0.85"/>
<line x1="192.45" y1="348.5" x2="192.45" y2="350.4" stroke="#000" stroke-width="0.85"/>
<text x="146.2" y="363.4" font-size="8.6" fill="#231f20" stroke="#231f20" stroke-width="0.2" text-anchor="middle">10<tspan font-size="6" dy="-3.6">2</tspan></text>
<line x1="194.7" y1="348.5" x2="194.7" y2="351.8" stroke="#000" stroke-width="1"/>
<line x1="209.48" y1="348.5" x2="209.48" y2="350.4" stroke="#000" stroke-width="0.85"/>
<line x1="218.13" y1="348.5" x2="218.13" y2="350.4" stroke="#000" stroke-width="0.85"/>
<line x1="224.26" y1="348.5" x2="224.26" y2="350.4" stroke="#000" stroke-width="0.85"/>
<line x1="229.02" y1="348.5" x2="229.02" y2="350.4" stroke="#000" stroke-width="0.85"/>
<line x1="232.91" y1="348.5" x2="232.91" y2="350.4" stroke="#000" stroke-width="0.85"/>
<line x1="236.19" y1="348.5" x2="236.19" y2="350.4" stroke="#000" stroke-width="0.85"/>
<line x1="239.04" y1="348.5" x2="239.04" y2="350.4" stroke="#000" stroke-width="0.85"/>
<line x1="241.55" y1="348.5" x2="241.55" y2="350.4" stroke="#000" stroke-width="0.85"/>
<text x="194.9" y="363.4" font-size="8.6" fill="#231f20" stroke="#231f20" stroke-width="0.2" text-anchor="middle">10<tspan font-size="6" dy="-3.6">3</tspan></text>
<line x1="243.8" y1="348.5" x2="243.8" y2="351.8" stroke="#000" stroke-width="1"/>
<text x="236.3" y="363.4" font-size="8.6" fill="#231f20" stroke="#231f20" stroke-width="0.2" text-anchor="middle">10<tspan font-size="6" dy="-3.6">4</tspan></text>
<rect x="171.6" y="292.3" width="6.7" height="6.6" fill="#838bb0" fill-opacity="0.72" stroke="#44609a" stroke-width="1.05"/>
<rect x="171.6" y="305.3" width="6.7" height="6.6" fill="#cc7f70" fill-opacity="0.7" stroke="#c23560" stroke-width="1.05"/>
<text x="181.9" y="298.3" font-size="8.9" text-anchor="start" font-weight="normal" fill="#231f20" textLength="36.8" lengthAdjust="spacingAndGlyphs" stroke="#231f20" stroke-width="0.22">UT/STAT3</text>
<text x="181.9" y="311.3" font-size="8.9" text-anchor="start" font-weight="normal" fill="#231f20" textLength="42.4" lengthAdjust="spacingAndGlyphs" stroke="#231f20" stroke-width="0.22">IL6/pSTAT3</text>
<text x="138.9" y="335.5" font-size="9.5" text-anchor="start" font-weight="normal" fill="#231f20" textLength="42.2" lengthAdjust="spacingAndGlyphs" stroke="#231f20" stroke-width="0.22">NMFI:0.24</text>
<path d="M289.4 347.7 L309.1 346.6 L315.2 344.3 L319.8 343.5 L324.5 339.7 L327.5 338.2 L332.2 335.1 L335 333.1 L338.8 331.3 L341.3 330 L343.8 331.3 L345.6 330.6 L347.5 333.1 L349.4 331.3 L351.3 331.9 L353.1 328.8 L355 325.6 L356.9 324.4 L358.8 321.3 L360 315 L361.3 310 L362.5 308.1 L364 303.5 L365 307.8 L366.3 305 L367.5 304.4 L368.8 308.8 L370 317.5 L371.9 321.3 L373.8 330 L376.3 338.8 L378.8 343.1 L382.5 344.1 L387.5 345.6 L391.3 347.3 L395 347.7 L395 348.2 L289.4 348.2" fill="#cc7f70" fill-opacity="0.7" stroke="none" stroke-width="0" stroke-linejoin="round"/>
<path d="M289.4 347.7 L309.1 346.6 L315.2 344.3 L319.8 343.5 L324.5 339.7 L327.5 338.2 L332.2 335.1 L335 333.1 L338.8 331.3 L341.3 330 L343.8 331.3 L345.6 330.6 L347.5 333.1 L349.4 331.3 L351.3 331.9 L353.1 328.8 L355 325.6 L356.9 324.4 L358.8 321.3 L360 315 L361.3 310 L362.5 308.1 L364 303.5 L365 307.8 L366.3 305 L367.5 304.4 L368.8 308.8 L370 317.5 L371.9 321.3 L373.8 330 L376.3 338.8 L378.8 343.1 L382.5 344.1 L387.5 345.6 L391.3 347.3 L395 347.7" fill="none" fill-opacity="1" stroke="#c23560" stroke-width="1.15" stroke-linejoin="round"/>
<path d="M289.4 347.7 L289.6 340.5 L291.4 345.8 L296.8 345.8 L301.4 344.3 L306 341.2 L310.6 337.4 L315.2 332 L318.3 328.2 L320.6 322.8 L322.9 318.9 L325.2 308.2 L327.5 302 L329.1 297.4 L330.6 295.1 L332.5 286.3 L334.5 292 L336.3 290.6 L338.1 297.5 L340 302.5 L341.3 312.5 L342.5 322.5 L343.8 330 L345.6 337.5 L347.5 342.5 L350 346 L353.8 347.5 L356 347.7 L356 348.2 L289.4 348.2" fill="#838bb0" fill-opacity="0.72" stroke="none" stroke-width="0" stroke-linejoin="round"/>
<path d="M289.4 347.7 L289.6 340.5 L291.4 345.8 L296.8 345.8 L301.4 344.3 L306 341.2 L310.6 337.4 L315.2 332 L318.3 328.2 L320.6 322.8 L322.9 318.9 L325.2 308.2 L327.5 302 L329.1 297.4 L330.6 295.1 L332.5 286.3 L334.5 292 L336.3 290.6 L338.1 297.5 L340 302.5 L341.3 312.5 L342.5 322.5 L343.8 330 L345.6 337.5 L347.5 342.5 L350 346 L353.8 347.5 L356 347.7" fill="none" fill-opacity="1" stroke="#44609a" stroke-width="1.15" stroke-linejoin="round"/>
<rect x="289.3" y="347" width="196.4" height="1" fill="#a8a6c4"/>
<rect x="289.3" y="348" width="196.4" height="1" fill="#2b2a5e"/>
<path d="M289.3 269.9 L485.7 269.9 L485.7 348.8" fill="none" stroke="#000" stroke-width="1.35"/>
<line x1="289.3" y1="269.3" x2="289.3" y2="348.8" stroke="#000" stroke-width="1.35"/>
<line x1="287.3" y1="344.25" x2="289.3" y2="344.25" stroke="#000" stroke-width="0.9"/>
<line x1="287.3" y1="340.59" x2="289.3" y2="340.59" stroke="#000" stroke-width="0.9"/>
<line x1="287.3" y1="336.94" x2="289.3" y2="336.94" stroke="#000" stroke-width="0.9"/>
<line x1="287.3" y1="329.63" x2="289.3" y2="329.63" stroke="#000" stroke-width="0.9"/>
<line x1="287.3" y1="325.97" x2="289.3" y2="325.97" stroke="#000" stroke-width="0.9"/>
<line x1="287.3" y1="322.32" x2="289.3" y2="322.32" stroke="#000" stroke-width="0.9"/>
<line x1="287.3" y1="315.01" x2="289.3" y2="315.01" stroke="#000" stroke-width="0.9"/>
<line x1="287.3" y1="311.35" x2="289.3" y2="311.35" stroke="#000" stroke-width="0.9"/>
<line x1="287.3" y1="307.7" x2="289.3" y2="307.7" stroke="#000" stroke-width="0.9"/>
<line x1="287.3" y1="300.39" x2="289.3" y2="300.39" stroke="#000" stroke-width="0.9"/>
<line x1="287.3" y1="296.73" x2="289.3" y2="296.73" stroke="#000" stroke-width="0.9"/>
<line x1="287.3" y1="293.08" x2="289.3" y2="293.08" stroke="#000" stroke-width="0.9"/>
<line x1="287.3" y1="285.77" x2="289.3" y2="285.77" stroke="#000" stroke-width="0.9"/>
<line x1="287.3" y1="282.11" x2="289.3" y2="282.11" stroke="#000" stroke-width="0.9"/>
<line x1="287.3" y1="278.46" x2="289.3" y2="278.46" stroke="#000" stroke-width="0.9"/>
<line x1="287.3" y1="271.15" x2="289.3" y2="271.15" stroke="#000" stroke-width="0.9"/>
<line x1="285.5" y1="274.6" x2="289.3" y2="274.6" stroke="#000" stroke-width="1"/>
<text x="282.1" y="277.9" font-size="9.6" text-anchor="end" font-weight="normal" fill="#231f20" stroke="#231f20" stroke-width="0.22">300</text>
<line x1="285.5" y1="289.4" x2="289.3" y2="289.4" stroke="#000" stroke-width="1"/>
<text x="282.1" y="292.7" font-size="9.6" text-anchor="end" font-weight="normal" fill="#231f20" stroke="#231f20" stroke-width="0.22">250</text>
<line x1="285.5" y1="303.8" x2="289.3" y2="303.8" stroke="#000" stroke-width="1"/>
<text x="282.1" y="307.1" font-size="9.6" text-anchor="end" font-weight="normal" fill="#231f20" stroke="#231f20" stroke-width="0.22">200</text>
<line x1="285.5" y1="318.6" x2="289.3" y2="318.6" stroke="#000" stroke-width="1"/>
<text x="282.1" y="321.9" font-size="9.6" text-anchor="end" font-weight="normal" fill="#231f20" stroke="#231f20" stroke-width="0.22">150</text>
<line x1="285.5" y1="333.1" x2="289.3" y2="333.1" stroke="#000" stroke-width="1"/>
<text x="282.1" y="336.4" font-size="9.6" text-anchor="end" font-weight="normal" fill="#231f20" stroke="#231f20" stroke-width="0.22">50</text>
<line x1="285.5" y1="347.7" x2="289.3" y2="347.7" stroke="#000" stroke-width="1"/>
<text x="282.1" y="351" font-size="9.6" text-anchor="end" font-weight="normal" fill="#231f20" stroke="#231f20" stroke-width="0.22">0</text>
<line x1="289.3" y1="348.4" x2="289.3" y2="351.7" stroke="#000" stroke-width="1"/>
<line x1="304.07" y1="348.4" x2="304.07" y2="350.3" stroke="#000" stroke-width="0.85"/>
<line x1="312.7" y1="348.4" x2="312.7" y2="350.3" stroke="#000" stroke-width="0.85"/>
<line x1="318.83" y1="348.4" x2="318.83" y2="350.3" stroke="#000" stroke-width="0.85"/>
<line x1="323.58" y1="348.4" x2="323.58" y2="350.3" stroke="#000" stroke-width="0.85"/>
<line x1="327.47" y1="348.4" x2="327.47" y2="350.3" stroke="#000" stroke-width="0.85"/>
<line x1="330.75" y1="348.4" x2="330.75" y2="350.3" stroke="#000" stroke-width="0.85"/>
<line x1="333.6" y1="348.4" x2="333.6" y2="350.3" stroke="#000" stroke-width="0.85"/>
<line x1="336.11" y1="348.4" x2="336.11" y2="350.3" stroke="#000" stroke-width="0.85"/>
<text x="289.7" y="363.3" font-size="8.6" fill="#231f20" stroke="#231f20" stroke-width="0.2" text-anchor="middle">10<tspan font-size="6" dy="-3.6">0</tspan></text>
<line x1="338.35" y1="348.4" x2="338.35" y2="351.7" stroke="#000" stroke-width="1"/>
<line x1="353.12" y1="348.4" x2="353.12" y2="350.3" stroke="#000" stroke-width="0.85"/>
<line x1="361.75" y1="348.4" x2="361.75" y2="350.3" stroke="#000" stroke-width="0.85"/>
<line x1="367.88" y1="348.4" x2="367.88" y2="350.3" stroke="#000" stroke-width="0.85"/>
<line x1="372.63" y1="348.4" x2="372.63" y2="350.3" stroke="#000" stroke-width="0.85"/>
<line x1="376.52" y1="348.4" x2="376.52" y2="350.3" stroke="#000" stroke-width="0.85"/>
<line x1="379.8" y1="348.4" x2="379.8" y2="350.3" stroke="#000" stroke-width="0.85"/>
<line x1="382.65" y1="348.4" x2="382.65" y2="350.3" stroke="#000" stroke-width="0.85"/>
<line x1="385.16" y1="348.4" x2="385.16" y2="350.3" stroke="#000" stroke-width="0.85"/>
<text x="338.8" y="363.3" font-size="8.6" fill="#231f20" stroke="#231f20" stroke-width="0.2" text-anchor="middle">10<tspan font-size="6" dy="-3.6">1</tspan></text>
<line x1="387.4" y1="348.4" x2="387.4" y2="351.7" stroke="#000" stroke-width="1"/>
<line x1="402.17" y1="348.4" x2="402.17" y2="350.3" stroke="#000" stroke-width="0.85"/>
<line x1="410.8" y1="348.4" x2="410.8" y2="350.3" stroke="#000" stroke-width="0.85"/>
<line x1="416.93" y1="348.4" x2="416.93" y2="350.3" stroke="#000" stroke-width="0.85"/>
<line x1="421.68" y1="348.4" x2="421.68" y2="350.3" stroke="#000" stroke-width="0.85"/>
<line x1="425.57" y1="348.4" x2="425.57" y2="350.3" stroke="#000" stroke-width="0.85"/>
<line x1="428.85" y1="348.4" x2="428.85" y2="350.3" stroke="#000" stroke-width="0.85"/>
<line x1="431.7" y1="348.4" x2="431.7" y2="350.3" stroke="#000" stroke-width="0.85"/>
<line x1="434.21" y1="348.4" x2="434.21" y2="350.3" stroke="#000" stroke-width="0.85"/>
<text x="387.5" y="363.3" font-size="8.6" fill="#231f20" stroke="#231f20" stroke-width="0.2" text-anchor="middle">10<tspan font-size="6" dy="-3.6">2</tspan></text>
<line x1="436.45" y1="348.4" x2="436.45" y2="351.7" stroke="#000" stroke-width="1"/>
<line x1="451.22" y1="348.4" x2="451.22" y2="350.3" stroke="#000" stroke-width="0.85"/>
<line x1="459.85" y1="348.4" x2="459.85" y2="350.3" stroke="#000" stroke-width="0.85"/>
<line x1="465.98" y1="348.4" x2="465.98" y2="350.3" stroke="#000" stroke-width="0.85"/>
<line x1="470.73" y1="348.4" x2="470.73" y2="350.3" stroke="#000" stroke-width="0.85"/>
<line x1="474.62" y1="348.4" x2="474.62" y2="350.3" stroke="#000" stroke-width="0.85"/>
<line x1="477.9" y1="348.4" x2="477.9" y2="350.3" stroke="#000" stroke-width="0.85"/>
<line x1="480.75" y1="348.4" x2="480.75" y2="350.3" stroke="#000" stroke-width="0.85"/>
<line x1="483.26" y1="348.4" x2="483.26" y2="350.3" stroke="#000" stroke-width="0.85"/>
<text x="429" y="363.3" font-size="8.6" fill="#231f20" stroke="#231f20" stroke-width="0.2" text-anchor="middle">10<tspan font-size="6" dy="-3.6">3</tspan></text>
<line x1="485.5" y1="348.4" x2="485.5" y2="351.7" stroke="#000" stroke-width="1"/>
<text x="474.4" y="363.3" font-size="8.6" fill="#231f20" stroke="#231f20" stroke-width="0.2" text-anchor="middle">10<tspan font-size="6" dy="-3.6">4</tspan></text>
<rect x="423.7" y="290.5" width="6.7" height="6.6" fill="#838bb0" fill-opacity="0.72" stroke="#44609a" stroke-width="1.05"/>
<rect x="423.7" y="303.5" width="6.7" height="6.6" fill="#cc7f70" fill-opacity="0.7" stroke="#c23560" stroke-width="1.05"/>
<text x="434" y="296.5" font-size="8.9" text-anchor="start" font-weight="normal" fill="#231f20" textLength="36.8" lengthAdjust="spacingAndGlyphs" stroke="#231f20" stroke-width="0.22">UT/STAT3</text>
<text x="434" y="309.5" font-size="8.9" text-anchor="start" font-weight="normal" fill="#231f20" textLength="42.4" lengthAdjust="spacingAndGlyphs" stroke="#231f20" stroke-width="0.22">IL6/pSTAT3</text>
<text x="395" y="334" font-size="9.5" text-anchor="start" font-weight="normal" fill="#231f20" textLength="42.2" lengthAdjust="spacingAndGlyphs" stroke="#231f20" stroke-width="0.22">NMFI:2.42</text>
<text x="9.2" y="394" font-size="12.5" text-anchor="start" font-weight="bold" fill="#000" stroke="#000" stroke-width="0.45">B</text>
<line x1="113.2" y1="403.6" x2="113.2" y2="546.1" stroke="#000" stroke-width="1.3"/>
<line x1="112.6" y1="545.5" x2="324" y2="545.5" stroke="#000" stroke-width="1.6"/>
<line x1="110" y1="406.3" x2="113.2" y2="406.3" stroke="#000" stroke-width="1"/>
<text x="106.3" y="409.8" font-size="9.4" text-anchor="end" font-weight="normal" fill="#231f20" stroke="#231f20" stroke-width="0.22">2.0</text>
<line x1="110" y1="452.7" x2="113.2" y2="452.7" stroke="#000" stroke-width="1"/>
<text x="106.3" y="456.2" font-size="9.4" text-anchor="end" font-weight="normal" fill="#231f20" stroke="#231f20" stroke-width="0.22">1.5</text>
<line x1="110" y1="499.1" x2="113.2" y2="499.1" stroke="#000" stroke-width="1"/>
<text x="106.3" y="502.6" font-size="9.4" text-anchor="end" font-weight="normal" fill="#231f20" stroke="#231f20" stroke-width="0.22">1.0</text>
<line x1="110" y1="545.5" x2="113.2" y2="545.5" stroke="#000" stroke-width="1"/>
<text x="106.3" y="549" font-size="9.4" text-anchor="end" font-weight="normal" fill="#231f20" stroke="#231f20" stroke-width="0.22">0.5</text>
<line x1="148.2" y1="545.5" x2="148.2" y2="549.2" stroke="#000" stroke-width="1"/>
<line x1="217.6" y1="545.5" x2="217.6" y2="549.2" stroke="#000" stroke-width="1"/>
<line x1="287.3" y1="545.5" x2="287.3" y2="549.2" stroke="#000" stroke-width="1"/>
<text x="148.2" y="560.8" font-size="9.5" text-anchor="middle" font-weight="normal" fill="#231f20" textLength="52.3" lengthAdjust="spacingAndGlyphs" stroke="#231f20" stroke-width="0.22">Pre-treatment</text>
<text x="217.6" y="560.8" font-size="9.5" text-anchor="middle" font-weight="normal" fill="#231f20" textLength="28.2" lengthAdjust="spacingAndGlyphs" stroke="#231f20" stroke-width="0.22">Day 15</text>
<text x="287.3" y="560.8" font-size="9.5" text-anchor="middle" font-weight="normal" fill="#231f20" textLength="15.5" lengthAdjust="spacingAndGlyphs" stroke="#231f20" stroke-width="0.22">Cy6</text>
<text transform="translate(87 474.6) rotate(-90)" x="0" y="0" font-size="10.6" text-anchor="middle" font-weight="bold" fill="#231f20" textLength="52.7" lengthAdjust="spacingAndGlyphs">Normalized MFI</text>
<line x1="148.2" y1="454.4" x2="148.2" y2="493.9" stroke="#efc43a" stroke-width="1.3"/>
<line x1="143.4" y1="454.4" x2="153" y2="454.4" stroke="#ecba1c" stroke-width="1.2"/>
<line x1="143.4" y1="493.9" x2="153" y2="493.9" stroke="#ecba1c" stroke-width="1.2"/>
<line x1="217.6" y1="446.3" x2="217.6" y2="471.2" stroke="#efc43a" stroke-width="1.3"/>
<line x1="212.8" y1="446.3" x2="222.4" y2="446.3" stroke="#ecba1c" stroke-width="1.2"/>
<line x1="212.8" y1="471.2" x2="222.4" y2="471.2" stroke="#ecba1c" stroke-width="1.2"/>
<line x1="287.3" y1="422.4" x2="287.3" y2="448.4" stroke="#efc43a" stroke-width="1.3"/>
<line x1="282.5" y1="422.4" x2="292.1" y2="422.4" stroke="#ecba1c" stroke-width="1.2"/>
<line x1="282.5" y1="448.4" x2="292.1" y2="448.4" stroke="#ecba1c" stroke-width="1.2"/>
<line x1="148.2" y1="434.3" x2="148.2" y2="447.4" stroke="#3d5792" stroke-width="1.2"/>
<line x1="143.4" y1="434.3" x2="153" y2="434.3" stroke="#2f4d8c" stroke-width="1.2"/>
<line x1="143.4" y1="447.4" x2="153" y2="447.4" stroke="#2f4d8c" stroke-width="1.2"/>
<line x1="217.6" y1="468.2" x2="217.6" y2="484.4" stroke="#3d5792" stroke-width="1.2"/>
<line x1="212.8" y1="468.2" x2="222.4" y2="468.2" stroke="#2f4d8c" stroke-width="1.2"/>
<line x1="212.8" y1="484.4" x2="222.4" y2="484.4" stroke="#2f4d8c" stroke-width="1.2"/>
<line x1="287.3" y1="483" x2="287.3" y2="504.6" stroke="#3d5792" stroke-width="1.2"/>
<line x1="282.5" y1="483" x2="292.1" y2="483" stroke="#2f4d8c" stroke-width="1.2"/>
<line x1="282.5" y1="504.6" x2="292.1" y2="504.6" stroke="#2f4d8c" stroke-width="1.2"/>
<polyline points="148.2,474.4 217.6,457.9 287.3,435.4" fill="none" stroke="#ecba1c" stroke-width="1.6"/>
<polyline points="148.2,440 217.6,475.8 287.3,493.9" fill="none" stroke="#1f3c7a" stroke-width="1.6"/>
<rect x="144.9" y="471.1" width="6.6" height="6.6" fill="#ecba1c"/>
<rect x="214.3" y="454.6" width="6.6" height="6.6" fill="#ecba1c"/>
<rect x="284" y="432.1" width="6.6" height="6.6" fill="#ecba1c"/>
<circle cx="148.2" cy="440" r="3.2" fill="#1f3c7a"/>
<circle cx="217.6" cy="475.8" r="3.2" fill="#1f3c7a"/>
<circle cx="287.3" cy="493.9" r="3.2" fill="#1f3c7a"/>
<circle cx="217.7" cy="492.6" r="1.2" fill="#000"/>
<circle cx="287.3" cy="475.8" r="1.2" fill="#000"/>
<line x1="328.3" y1="453.9" x2="345.3" y2="453.9" stroke="#1f3c7a" stroke-width="1.6"/>
<circle cx="336.8" cy="453.9" r="3.2" fill="#1f3c7a"/>
<text x="348.9" y="456.9" font-size="8.6" text-anchor="start" font-weight="normal" fill="#231f20" textLength="12.2" lengthAdjust="spacingAndGlyphs" stroke="#231f20" stroke-width="0.22">CR</text>
<line x1="328.3" y1="467.6" x2="345.3" y2="467.6" stroke="#ecba1c" stroke-width="1.6"/>
<rect x="333.6" y="464.3" width="6.6" height="6.6" fill="#ecba1c"/>
<text x="348.9" y="470.5" font-size="8.2" text-anchor="start" font-weight="normal" fill="#231f20" textLength="23.5" lengthAdjust="spacingAndGlyphs" stroke="#231f20" stroke-width="0.22">Failure</text>
<text x="8.7" y="592.3" font-size="12.3" text-anchor="start" font-weight="bold" fill="#000" stroke="#000" stroke-width="0.45">C</text>
<text x="9.2" y="608" font-size="13.6" text-anchor="start" font-weight="bold" fill="#000" stroke="#000" stroke-width="0.45">(i)</text>
<text x="132.7" y="608.3" font-size="11.6" text-anchor="middle" font-weight="normal" fill="#231f20" textLength="27.9" lengthAdjust="spacingAndGlyphs" stroke="#231f20" stroke-width="0.22">IL6Ra</text>
<line x1="41.9" y1="615.4" x2="41.9" y2="739.4" stroke="#000" stroke-width="1.3"/>
<line x1="41.3" y1="738.8" x2="223.9" y2="738.8" stroke="#000" stroke-width="1.3"/>
<line x1="38.3" y1="618.3" x2="41.9" y2="618.3" stroke="#000" stroke-width="1"/>
<text x="34.6" y="621.4" font-size="9.2" text-anchor="end" font-weight="normal" fill="#231f20" stroke="#231f20" stroke-width="0.22">10</text>
<line x1="38.3" y1="642.4" x2="41.9" y2="642.4" stroke="#000" stroke-width="1"/>
<text x="34.6" y="645.5" font-size="9.2" text-anchor="end" font-weight="normal" fill="#231f20" stroke="#231f20" stroke-width="0.22">8</text>
<line x1="38.3" y1="666.5" x2="41.9" y2="666.5" stroke="#000" stroke-width="1"/>
<text x="34.6" y="669.6" font-size="9.2" text-anchor="end" font-weight="normal" fill="#231f20" stroke="#231f20" stroke-width="0.22">6</text>
<line x1="38.3" y1="690.6" x2="41.9" y2="690.6" stroke="#000" stroke-width="1"/>
<text x="34.6" y="693.7" font-size="9.2" text-anchor="end" font-weight="normal" fill="#231f20" stroke="#231f20" stroke-width="0.22">4</text>
<line x1="38.3" y1="714.7" x2="41.9" y2="714.7" stroke="#000" stroke-width="1"/>
<text x="34.6" y="717.8" font-size="9.2" text-anchor="end" font-weight="normal" fill="#231f20" stroke="#231f20" stroke-width="0.22">2</text>
<line x1="38.3" y1="738.8" x2="41.9" y2="738.8" stroke="#000" stroke-width="1"/>
<text x="34.6" y="741.9" font-size="9.2" text-anchor="end" font-weight="normal" fill="#231f20" stroke="#231f20" stroke-width="0.22">0</text>
<line x1="87.3" y1="738.8" x2="87.3" y2="742" stroke="#000" stroke-width="1"/>
<line x1="177.9" y1="738.8" x2="177.9" y2="742" stroke="#000" stroke-width="1"/>
<text x="87.3" y="754.1" font-size="9.1" text-anchor="middle" font-weight="normal" fill="#231f20" textLength="72.8" lengthAdjust="spacingAndGlyphs" stroke="#231f20" stroke-width="0.22">IL6/pSTAT3_down</text>
<text x="177.9" y="754.1" font-size="9.1" text-anchor="middle" font-weight="normal" fill="#231f20" textLength="62" lengthAdjust="spacingAndGlyphs" stroke="#231f20" stroke-width="0.22">IL6/pSTAT3_up</text>
<text transform="translate(18.1 676.9) rotate(-90)" x="0" y="0" font-size="10.6" text-anchor="middle" font-weight="bold" fill="#231f20" textLength="52.7" lengthAdjust="spacingAndGlyphs">Normalized MFI</text>
<rect x="168.5" y="613.5" width="13" height="5.8" fill="#6aaa3f"/>
<rect x="168.5" y="626.5" width="13" height="5.8" fill="#52235f"/>
<text x="185.4" y="619" font-size="8.4" text-anchor="start" font-weight="normal" fill="#231f20" textLength="46.6" lengthAdjust="spacingAndGlyphs" stroke="#231f20" stroke-width="0.22">Pretreatment</text>
<text x="185.4" y="632" font-size="8.4" text-anchor="start" font-weight="normal" fill="#231f20" textLength="14.9" lengthAdjust="spacingAndGlyphs" stroke="#231f20" stroke-width="0.22">Cy6</text>
<rect x="59.2" y="693.1" width="22.8" height="12.5" fill="#6aaa3f"/>
<line x1="59.2" y1="695.4" x2="82" y2="695.4" stroke="#000" stroke-width="1.5"/>
<line x1="104.4" y1="644.6" x2="104.4" y2="656.6" stroke="#5a2d6e" stroke-width="1.1"/>
<line x1="104.4" y1="696.8" x2="104.4" y2="701.2" stroke="#5a2d6e" stroke-width="1.1"/>
<line x1="98.4" y1="644.6" x2="110.9" y2="644.6" stroke="#5a2d6e" stroke-width="1.1"/>
<line x1="98.4" y1="701.2" x2="110.9" y2="701.2" stroke="#5a2d6e" stroke-width="1.1"/>
<rect x="93.1" y="656.6" width="22.6" height="40.2" fill="#52235f"/>
<line x1="93.1" y1="689.6" x2="115.7" y2="689.6" stroke="#000" stroke-width="1.5"/>
<rect x="149.3" y="691.5" width="22.7" height="8.6" fill="#6aaa3f"/>
<line x1="149.3" y1="694.8" x2="172" y2="694.8" stroke="#000" stroke-width="1.5"/>
<line x1="194.7" y1="686.4" x2="194.7" y2="688" stroke="#5a2d6e" stroke-width="1.1"/>
<line x1="194.7" y1="692.5" x2="194.7" y2="696" stroke="#5a2d6e" stroke-width="1.1"/>
<line x1="189" y1="686.4" x2="200.8" y2="686.4" stroke="#5a2d6e" stroke-width="1.1"/>
<line x1="189" y1="696" x2="200.8" y2="696" stroke="#5a2d6e" stroke-width="1.1"/>
<rect x="183.5" y="688" width="22.4" height="4.5" fill="#52235f"/>
<line x1="183.5" y1="689.7" x2="205.9" y2="689.7" stroke="#000" stroke-width="1.5"/>
<text x="246.2" y="608" font-size="13.6" text-anchor="start" font-weight="bold" fill="#000" stroke="#000" stroke-width="0.45">(ii)</text>
<text x="374.7" y="608.3" font-size="11.6" text-anchor="middle" font-weight="normal" fill="#231f20" textLength="31.4" lengthAdjust="spacingAndGlyphs" stroke="#231f20" stroke-width="0.22">gp130</text>
<line x1="284" y1="615.4" x2="284" y2="739.4" stroke="#000" stroke-width="1.3"/>
<line x1="283.4" y1="738.8" x2="465.2" y2="738.8" stroke="#000" stroke-width="1.3"/>
<line x1="280.4" y1="618.3" x2="284" y2="618.3" stroke="#000" stroke-width="1"/>
<text x="276.7" y="621.4" font-size="9.2" text-anchor="end" font-weight="normal" fill="#231f20" stroke="#231f20" stroke-width="0.22">10</text>
<line x1="280.4" y1="642.4" x2="284" y2="642.4" stroke="#000" stroke-width="1"/>
<text x="276.7" y="645.5" font-size="9.2" text-anchor="end" font-weight="normal" fill="#231f20" stroke="#231f20" stroke-width="0.22">8</text>
<line x1="280.4" y1="666.5" x2="284" y2="666.5" stroke="#000" stroke-width="1"/>
<text x="276.7" y="669.6" font-size="9.2" text-anchor="end" font-weight="normal" fill="#231f20" stroke="#231f20" stroke-width="0.22">6</text>
<line x1="280.4" y1="690.6" x2="284" y2="690.6" stroke="#000" stroke-width="1"/>
<text x="276.7" y="693.7" font-size="9.2" text-anchor="end" font-weight="normal" fill="#231f20" stroke="#231f20" stroke-width="0.22">4</text>
<line x1="280.4" y1="714.7" x2="284" y2="714.7" stroke="#000" stroke-width="1"/>
<text x="276.7" y="717.8" font-size="9.2" text-anchor="end" font-weight="normal" fill="#231f20" stroke="#231f20" stroke-width="0.22">2</text>
<line x1="280.4" y1="738.8" x2="284" y2="738.8" stroke="#000" stroke-width="1"/>
<text x="276.7" y="741.9" font-size="9.2" text-anchor="end" font-weight="normal" fill="#231f20" stroke="#231f20" stroke-width="0.22">0</text>
<line x1="329.2" y1="738.8" x2="329.2" y2="742" stroke="#000" stroke-width="1"/>
<line x1="419.1" y1="738.8" x2="419.1" y2="742" stroke="#000" stroke-width="1"/>
<text x="329.2" y="754.1" font-size="9.1" text-anchor="middle" font-weight="normal" fill="#231f20" textLength="72.8" lengthAdjust="spacingAndGlyphs" stroke="#231f20" stroke-width="0.22">IL6/pSTAT3_down</text>
<text x="419.1" y="754.1" font-size="9.1" text-anchor="middle" font-weight="normal" fill="#231f20" textLength="62" lengthAdjust="spacingAndGlyphs" stroke="#231f20" stroke-width="0.22">IL6/pSTAT3_up</text>
<text transform="translate(260.2 676.9) rotate(-90)" x="0" y="0" font-size="10.6" text-anchor="middle" font-weight="bold" fill="#231f20" textLength="52.7" lengthAdjust="spacingAndGlyphs">Normalized MFI</text>
<rect x="448.6" y="602.5" width="13" height="5.8" fill="#6aaa3f"/>
<rect x="448.6" y="616" width="13" height="5.8" fill="#52235f"/>
<text x="465.5" y="608" font-size="8.4" text-anchor="start" font-weight="normal" fill="#231f20" textLength="46.6" lengthAdjust="spacingAndGlyphs" stroke="#231f20" stroke-width="0.22">Pretreatment</text>
<text x="465.5" y="621.5" font-size="8.4" text-anchor="start" font-weight="normal" fill="#231f20" textLength="14.9" lengthAdjust="spacingAndGlyphs" stroke="#231f20" stroke-width="0.22">Cy6</text>
<rect x="300.8" y="673.2" width="22.4" height="35.3" fill="#6aaa3f"/>
<line x1="300.8" y1="695.3" x2="323.2" y2="695.3" stroke="#000" stroke-width="1.5"/>
<line x1="346.1" y1="641.1" x2="346.1" y2="645.5" stroke="#5a2d6e" stroke-width="1.1"/>
<line x1="346.1" y1="688.4" x2="346.1" y2="702.2" stroke="#5a2d6e" stroke-width="1.1"/>
<line x1="340" y1="641.1" x2="351.5" y2="641.1" stroke="#5a2d6e" stroke-width="1.1"/>
<line x1="340" y1="702.2" x2="351.5" y2="702.2" stroke="#5a2d6e" stroke-width="1.1"/>
<rect x="334.9" y="645.5" width="22.4" height="42.9" fill="#52235f"/>
<line x1="334.9" y1="653.1" x2="357.3" y2="653.1" stroke="#000" stroke-width="1.5"/>
<rect x="390.8" y="653.8" width="22.4" height="34.8" fill="#6aaa3f"/>
<line x1="390.8" y1="682.5" x2="413.2" y2="682.5" stroke="#000" stroke-width="1.5"/>
<line x1="435.85" y1="632.9" x2="435.85" y2="634.5" stroke="#5a2d6e" stroke-width="1.1"/>
<line x1="435.85" y1="684.6" x2="435.85" y2="700" stroke="#5a2d6e" stroke-width="1.1"/>
<line x1="430" y1="632.9" x2="441.5" y2="632.9" stroke="#5a2d6e" stroke-width="1.1"/>
<line x1="430" y1="700" x2="441.5" y2="700" stroke="#5a2d6e" stroke-width="1.1"/>
<rect x="424.6" y="634.5" width="22.5" height="50.1" fill="#52235f"/>
<line x1="424.6" y1="666.2" x2="447.1" y2="666.2" stroke="#000" stroke-width="1.5"/>
</svg></body></html>
